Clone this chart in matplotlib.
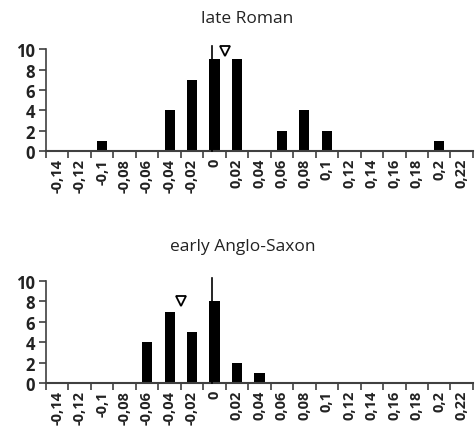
import matplotlib

matplotlib.use("Agg")
import matplotlib.pyplot as plt
import numpy as np

# category labels (Excel-style, decimal comma)
categories = ["-0,14", "-0,12", "-0,1", "-0,08", "-0,06", "-0,04", "-0,02", "0",
              "0,02", "0,04", "0,06", "0,08", "0,1", "0,12", "0,14", "0,16",
              "0,18", "0,2", "0,22"]

late_roman = [0, 0, 1, 0, 0, 4, 7, 9, 9, 0, 2, 4, 2, 0, 0, 0, 0, 1, 0]
early_anglo_saxon = [0, 0, 0, 0, 4, 7, 5, 8, 2, 1, 0, 0, 0, 0, 0, 0, 0, 0, 0]

# marker positions (category index units) and heights
late_roman_mean = (7.45, 9.8)
early_anglo_saxon_mean = (5.5, 8.0)
zero_line = (6.9, 10.3)

titles = ["late Roman", "early Anglo-Saxon"]

plt.rcParams["font.family"] = ["Open Sans", "DejaVu Sans"]

fig = plt.figure(figsize=(4.76, 4.31), dpi=100)
ax_top = fig.add_axes([0.0966, 0.647, 0.897, 0.2367])
ax_bot = fig.add_axes([0.0966, 0.109, 0.897, 0.2367])

axis_col = "#404040"
x = np.arange(len(categories))

for ax, vals, mean in zip(
    (ax_top, ax_bot),
    (late_roman, early_anglo_saxon),
    (late_roman_mean, early_anglo_saxon_mean),
):
    ax.bar(x, vals, width=0.45, color="black")
    ax.plot([zero_line[0], zero_line[0]], [0, zero_line[1]], color="black",
            lw=1.2, clip_on=False, zorder=3)
    ax.plot(mean[0], mean[1], marker="v", markersize=6.5, mfc="white",
            mec="black", mew=1.3, clip_on=False, zorder=4)

    ax.set_xlim(-0.5, len(categories) - 0.5)
    ax.set_ylim(0, 10)
    ax.set_yticks(range(0, 11, 2))
    ax.set_xticks(x)
    ax.set_xticklabels(categories, rotation=90, fontsize=10.5, fontweight="bold",
                       color="#222222")
    ax.set_xticks(np.arange(-0.5, len(categories)), minor=True)
    ax.tick_params(axis="x", which="major", length=0, pad=5)
    ax.tick_params(axis="x", which="minor", length=5, width=1.2, color=axis_col,
                   direction="out")
    ax.tick_params(axis="y", length=5, width=1.2, color=axis_col, pad=3,
                   labelsize=12)
    for lab in ax.get_yticklabels():
        lab.set_fontweight("bold")
        lab.set_color("#222222")

    for s in ("top", "right"):
        ax.spines[s].set_visible(False)
    ax.spines["left"].set_color(axis_col)
    ax.spines["bottom"].set_color(axis_col)
    ax.spines["left"].set_linewidth(1.2)
    ax.spines["bottom"].set_linewidth(1.5)

fig.text(0.52, 0.955, titles[0], fontsize=12.5, color="#222222",
         ha="center", va="center")
fig.text(0.51, 0.428, titles[1], fontsize=12.5, color="#222222",
         ha="center", va="center")

fig.savefig("out.png", dpi=100)
